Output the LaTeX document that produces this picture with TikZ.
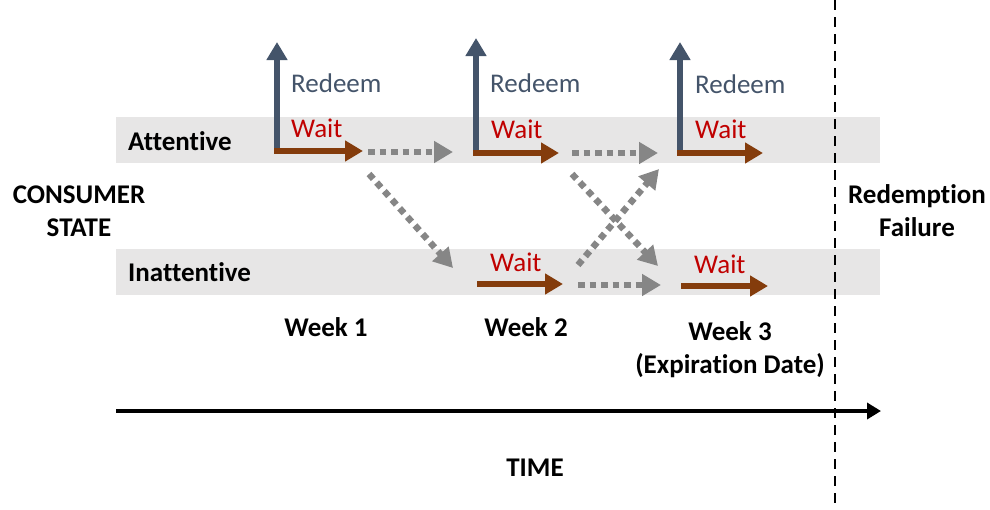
\documentclass[tikz,border=0pt]{standalone}
\usepackage{fontspec}
\setmainfont[Ligatures={NoCommon}]{Carlito}
\usepackage{tikz}
\usetikzlibrary{arrows.meta}

\definecolor{redeemBlue}{HTML}{44546A}
\definecolor{waitBrown}{HTML}{843C0C}
\definecolor{waitRed}{HTML}{C00000}
\definecolor{bandGray}{HTML}{E7E6E6}
\definecolor{moveGray}{HTML}{868686}

\begin{document}
\begin{tikzpicture}[%
    x=1pt, y=-1pt,
    font=\fontsize{27}{33}\selectfont,
    band/.style={%
        fill=bandGray
    },
    stateLabel/.style={%
        font=\fontsize{27}{33}\selectfont\bfseries,
        inner sep=0pt,
        align=center
    },
    redeemArrow/.style={%
        draw=redeemBlue,
        line width=6.5pt,
        -{Triangle[length=18pt,width=20pt]}
    },
    waitArrow/.style={%
        draw=waitBrown,
        line width=6pt,
        -{Triangle[length=18pt,width=20pt]}
    },
    moveArrow/.style={%
        draw=moveGray,
        line width=6.5pt,
        dash pattern=on 6.5pt off 5pt,
        -{Triangle[length=19pt,width=21pt]}
    },
    redeemText/.style={%
        text=redeemBlue,
        inner sep=0pt,
        anchor=base west
    },
    waitText/.style={%
        text=waitRed,
        inner sep=0pt,
        anchor=base west
    }
]
\useasboundingbox (0,0) rectangle (990,509);

% State bands
    \fill[band] (116,117) rectangle (880,163);
    \fill[band] (116,249) rectangle (880,295);

% State names
    \node[stateLabel, anchor=base west] (attentive) at (128,150) {Attentive};
    \node[stateLabel, anchor=base west] (inattentive) at (128,281) {Inattentive};
    \node[stateLabel] (consumer) at (79,211) {CONSUMER\\STATE};
    \node[stateLabel] (failure) at (917,211) {Redemption\\Failure};

% Weeks
    \node[stateLabel, anchor=base] (week1) at (326,336) {Week 1};
    \node[stateLabel, anchor=base] (week2) at (526,336) {Week 2};
    \node[stateLabel] (week3) at (730,350) {Week 3\\(Expiration Date)};

% Expiration line
    \coordinate (expTop) at (835,0);
    \coordinate (expBottom) at (835,509);
    \draw[line width=1.8pt, dash pattern=on 10pt off 7pt] (expTop) -- (expBottom);

% Time axis
    \coordinate (timeStart) at (116,411);
    \coordinate (timeEnd) at (881,411);
    \draw[line width=4.5pt, -{Triangle[length=14pt,width=16pt]}] (timeStart) -- (timeEnd);
    \node[stateLabel, anchor=base] (time) at (535,476) {TIME};

% Attentive row: start points, redeem tops, wait ends
    \coordinate (att1) at (277,151);
    \coordinate (att2) at (476,153);
    \coordinate (att3) at (680,153);
    \coordinate (red1) at (277,42);
    \coordinate (red2) at (476,38);
    \coordinate (red3) at (680,42);
    \coordinate (wait1) at (363,151);
    \coordinate (wait2) at (559,153);
    \coordinate (wait3) at (763,153);

% Inattentive row
    \coordinate (ina2) at (477,284);
    \coordinate (ina3) at (681,286);
    \coordinate (waitI2) at (563,284);
    \coordinate (waitI3) at (768,286);

% Redeem arrows
\draw[redeemArrow] ([yshift=3pt]att1) -- (red1);
\draw[redeemArrow] ([yshift=3pt]att2) -- (red2);
\draw[redeemArrow] ([yshift=3pt]att3) -- (red3);

\node[redeemText] (redeem1) at (291,92) {Redeem};
\node[redeemText] (redeem2) at (490,92) {Redeem};
\node[redeemText] (redeem3) at (695,93) {Redeem};

% Wait arrows
\draw[waitArrow] ([xshift=-3pt]att1) -- (wait1);
\draw[waitArrow] ([xshift=-3pt]att2) -- (wait2);
\draw[waitArrow] ([xshift=-3pt]att3) -- (wait3);
\draw[waitArrow] (ina2) -- (waitI2);
\draw[waitArrow] (ina3) -- (waitI3);

\node[waitText] (waitLabel1) at (291,137) {Wait};
\node[waitText] (waitLabel2) at (491,138) {Wait};
\node[waitText] (waitLabel3) at (695,138) {Wait};
\node[waitText] (waitLabelI2) at (490,271) {Wait};
\node[waitText] (waitLabelI3) at (694,273) {Wait};

% Transitions between weeks
    \coordinate (mvA1) at (368,152);
    \coordinate (mvA2) at (453,152);
    \coordinate (mvB1) at (572,153);
    \coordinate (mvB2) at (658,153);
    \coordinate (mvC1) at (369,174);
    \coordinate (mvC2) at (453,268);
    \coordinate (mvD1) at (572,174);
    \coordinate (mvD2) at (658,266);
    \coordinate (mvE1) at (578,265);
    \coordinate (mvE2) at (659,169);
    \coordinate (mvF1) at (578,285);
    \coordinate (mvF2) at (661,285);

\draw[moveArrow] (mvA1) -- (mvA2);
\draw[moveArrow] (mvB1) -- (mvB2);
\draw[moveArrow] (mvC1) -- (mvC2);
\draw[moveArrow] (mvD1) -- (mvD2);
\draw[moveArrow] (mvE1) -- (mvE2);
\draw[moveArrow] (mvF1) -- (mvF2);

\end{tikzpicture}
\end{document}
